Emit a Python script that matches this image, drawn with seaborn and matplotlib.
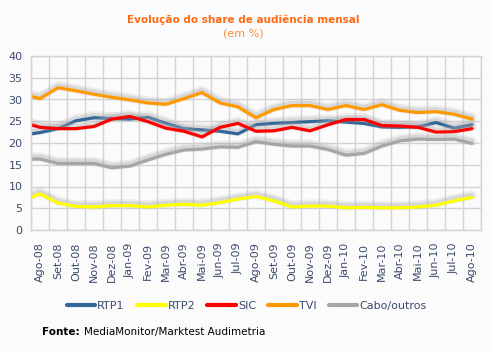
import numpy as np
import pandas as pd
import matplotlib
matplotlib.use('Agg')
import matplotlib.pyplot as plt
import matplotlib.patheffects as pe
from matplotlib.lines import Line2D
import seaborn as sns

# Months on the x axis
meses = ['Ago-08', 'Set-08', 'Out-08', 'Nov-08', 'Dez-08', 'Jan-09', 'Fev-09', 'Mar-09',
         'Abr-09', 'Mai-09', 'Jun-09', 'Jul-09', 'Ago-09', 'Set-09', 'Out-09', 'Nov-09',
         'Dez-09', 'Jan-10', 'Fev-10', 'Mar-10', 'Abr-10', 'Mai-10', 'Jun-10', 'Jul-10',
         'Ago-10']

# Share values (%); first value is the line start at the left edge
rtp1 = [22.1, 22.4, 23.3, 25.1, 25.8, 25.6, 25.5, 25.9, 24.5, 23.3, 23.0, 22.7, 22.1,
        24.2, 24.5, 24.7, 24.9, 25.1, 24.8, 24.5, 23.7, 23.6, 23.7, 24.7, 23.4, 24.2]
rtp2 = [7.5, 8.3, 6.2, 5.4, 5.3, 5.6, 5.6, 5.3, 5.7, 5.9, 5.7, 6.3, 7.1,
        7.7, 6.7, 5.3, 5.5, 5.5, 5.1, 5.2, 5.1, 5.1, 5.3, 5.7, 6.7, 7.5]
sic = [24.2, 23.6, 23.3, 23.3, 23.8, 25.5, 26.1, 24.9, 23.4, 22.7, 21.4, 23.6, 24.5,
       22.7, 22.8, 23.6, 22.8, 24.2, 25.4, 25.4, 24.0, 23.9, 23.6, 22.5, 22.6, 23.3]
tvi = [30.7, 30.2, 32.7, 32.0, 31.2, 30.5, 29.9, 29.2, 28.9, 30.2, 31.6, 29.2, 28.3,
       25.8, 27.7, 28.6, 28.6, 27.7, 28.6, 27.7, 28.8, 27.5, 27.0, 27.2, 26.6, 25.5]
cabo = [16.3, 16.3, 15.3, 15.3, 15.3, 14.3, 14.7, 16.1, 17.4, 18.4, 18.6, 19.1, 19.0,
        20.3, 19.7, 19.3, 19.3, 18.5, 17.2, 17.6, 19.3, 20.5, 20.9, 20.8, 20.9, 19.9]

canais = ['RTP1', 'RTP2', 'SIC', 'TVI', 'Cabo/outros']
cores = ['#336699', '#FFFF00', '#FF0000', '#FF9900', '#A6A6A6']

pos = np.r_[-0.5, np.arange(len(meses))]
df = pd.DataFrame({'pos': np.tile(pos, 5),
                   'share': rtp1 + rtp2 + sic + tvi + cabo,
                   'canal': np.repeat(canais, len(pos))})

sns.set_style('white')
plt.rcParams['font.family'] = ['DejaVu Sans']

fig = plt.figure(figsize=(4.93, 3.51), dpi=100, facecolor='#FBFBFB')
ax = fig.add_axes([31 / 493, 1 - 230 / 351, 450 / 493, 174 / 351])
ax.set_facecolor('#FBFBFB')

sns.lineplot(data=df, x='pos', y='share', hue='canal', hue_order=canais,
             palette=dict(zip(canais, cores)), sort=False, estimator=None,
             linewidth=2.3, legend=False, ax=ax)

# soft grey drop shadow above each line
for ln in ax.lines:
    ln.set_solid_joinstyle('round')
    ln.set_path_effects([
        pe.SimpleLineShadow(offset=(0, 1.5), shadow_color='#b8b8b8', alpha=0.22, linewidth=6.5),
        pe.SimpleLineShadow(offset=(0, 1.5), shadow_color='#a8a8a8', alpha=0.3, linewidth=3.5),
        pe.Normal()])

grid_c = '#D3D3D3'
txt_c = '#3C4A6E'
ax.set_xlim(-0.5, len(meses) - 0.5)
ax.set_ylim(0, 40)
ax.set_yticks(np.arange(0, 41, 5))
ax.set_xticks(np.arange(len(meses)))
ax.set_xticklabels(meses, rotation=90)
ax.set_xticks(np.arange(-0.5, len(meses), 1), minor=True)
ax.grid(axis='y', which='major', color=grid_c, linewidth=1)
ax.grid(axis='x', which='minor', color=grid_c, linewidth=1)
ax.set_axisbelow(True)
ax.tick_params(axis='x', which='major', length=0, pad=9, labelsize=8, labelcolor=txt_c)
ax.tick_params(axis='x', which='minor', length=4, color=grid_c, width=1)
ax.tick_params(axis='y', length=0, pad=6, labelsize=8, labelcolor=txt_c)
for s in ax.spines.values():
    s.set_color(grid_c)
    s.set_linewidth(1)
ax.set_xlabel('')
ax.set_ylabel('')

fig.text(0.493, 1 - 20 / 351, 'Evolução do share de audiência mensal', ha='center', va='center',
         fontsize=7.5, fontweight='bold', color='#FF6A13')
fig.text(0.493, 1 - 33 / 351, '(em %)', ha='center', va='center', fontsize=8, color='#FF8C3A')

handles = [Line2D([], [], color=c, linewidth=3) for c in cores]
fig.legend(handles, canais, loc='center', bbox_to_anchor=(0.5, 1 - 306 / 351), ncol=5,
           frameon=False, fontsize=8, handlelength=2.6, handletextpad=0.15,
           columnspacing=1.1, labelcolor=txt_c)

# source line: bold label followed by normal text
fonte = fig.text(42 / 493, 1 - 332 / 351, 'Fonte:', ha='left', va='center', fontsize=7.5,
                 fontweight='bold', color='black')
fig.canvas.draw()
bb = fonte.get_window_extent(renderer=fig.canvas.get_renderer())
fig.text((bb.x1 + 4) / 493, 1 - 332 / 351, 'MediaMonitor/Marktest Audimetria', ha='left',
         va='center', fontsize=7.5, color='black')

fig.savefig('out.png', dpi=100, facecolor=fig.get_facecolor())
